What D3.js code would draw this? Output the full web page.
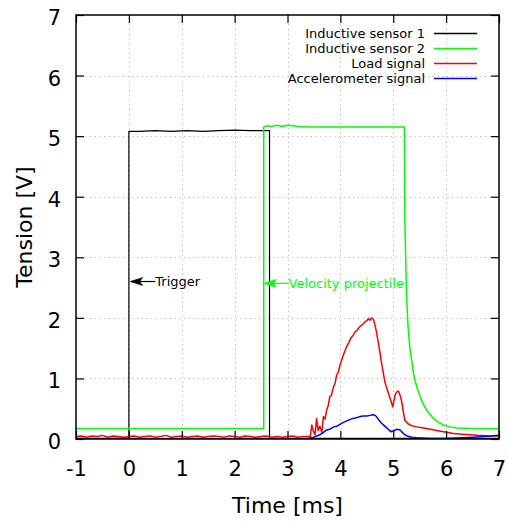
<!DOCTYPE html>
<html>
<head>
<meta charset="utf-8">
<script src="https://cdn.jsdelivr.net/npm/d3@7"></script>
<style>
  html, body { margin: 0; padding: 0; background: #fff; }
  svg { display: block; font-family: "DejaVu Sans", sans-serif; }
</style>
</head>
<body>
<svg id="chart" width="508" height="521"></svg>
<script>
// ---------------- DATA ----------------
const xTicks = [-1, 0, 1, 2, 3, 4, 5, 6, 7];
const yTicks = [0, 1, 2, 3, 4, 5, 6, 7];
const xTitle = "Time [ms]";
const yTitle = "Tension [V]";

const seriesNames = ["Inductive sensor 1", "Inductive sensor 2", "Load signal", "Accelerometer signal"];
const seriesColors = ["#000000", "#00ff00", "#ff0000", "#0000ff"];

// Inductive sensor 1 (time ms, volts)
const sensor1Time = [-1, -0.5, 0.0, 0.0, 0.2, 0.5, 0.8, 1.1, 1.4, 1.7, 2.0, 2.3, 2.5, 2.66, 2.66, 4, 7];
const sensor1Volt = [0.01, 0.01, 0.01, 5.08, 5.08, 5.09, 5.08, 5.09, 5.08, 5.09, 5.10, 5.09, 5.09, 5.09, 0.01, 0.01, 0.01];

// Inductive sensor 2
const sensor2Time = [-1, 1, 2.55, 2.55, 2.6, 2.7, 2.8, 2.9, 3.0, 3.1, 3.2, 3.4, 4.0, 4.6, 5.21, 5.22, 5.25, 5.28, 5.32, 5.35, 5.38, 5.41, 5.46, 5.51, 5.57, 5.63, 5.70, 5.76, 5.85, 5.95, 6.07, 6.2, 6.5, 7];
const sensor2Volt = [0.175, 0.175, 0.175, 5.15, 5.17, 5.16, 5.18, 5.16, 5.18, 5.17, 5.16, 5.15, 5.15, 5.15, 5.15, 3.6, 2.41, 1.85, 1.45, 1.30, 1.10, 0.97, 0.82, 0.70, 0.57, 0.48, 0.40, 0.34, 0.28, 0.23, 0.20, 0.18, 0.175, 0.17];

// Load signal
const loadTime = [-1, -0.9, -0.8, -0.7, -0.6, -0.5, -0.4, -0.3, -0.2, -0.1, 0, 0.1, 0.2, 0.3, 0.4, 0.5, 0.6, 0.7, 0.8, 0.9, 1.0, 1.1, 1.2, 1.3, 1.4, 1.5, 1.6, 1.7, 1.8, 1.9, 2.0, 2.1, 2.2, 2.3, 2.4, 2.5, 2.6, 2.7, 2.8, 2.9, 3.0, 3.1, 3.2, 3.3, 3.4,
  3.43, 3.46, 3.49, 3.52, 3.55, 3.58, 3.61, 3.65, 3.68, 3.71, 3.74, 3.77, 3.80, 3.83, 3.87, 3.90, 3.93, 3.96, 3.99, 4.02, 4.05, 4.08, 4.12, 4.16, 4.20, 4.24, 4.28, 4.32, 4.37, 4.42, 4.47, 4.50, 4.53, 4.56, 4.59, 4.62, 4.64, 4.68, 4.72, 4.75, 4.78, 4.81, 4.84, 4.87, 4.91, 4.94, 4.97, 4.99, 5.01, 5.04, 5.07, 5.10, 5.13, 5.16, 5.19, 5.22, 5.26, 5.30, 5.35, 5.45, 5.57, 5.70, 5.82, 5.95, 6.14, 6.30, 6.45, 6.60, 6.83, 7];
const loadVolt = [0.04, 0.05, 0.03, 0.05, 0.04, 0.06, 0.03, 0.05, 0.04, 0.03, 0.04, 0.05, 0.03, 0.04, 0.05, 0.03, 0.04, 0.06, 0.03, 0.04, 0.05, 0.03, 0.04, 0.05, 0.03, 0.04, 0.05, 0.04, 0.03, 0.05, 0.04, 0.03, 0.05, 0.04, 0.03, 0.04, 0.05, 0.03, 0.04, 0.03, 0.04, 0.05, 0.03, 0.04, 0.04,
  0.04, 0.23, 0.13, 0.07, 0.34, 0.14, 0.21, 0.11, 0.37, 0.33, 0.48, 0.55, 0.70, 0.72, 0.86, 0.92, 1.06, 1.10, 1.21, 1.29, 1.37, 1.44, 1.53, 1.59, 1.67, 1.71, 1.77, 1.80, 1.86, 1.89, 1.94, 1.95, 1.99, 1.96, 2.00, 1.98, 1.93, 1.78, 1.58, 1.42, 1.25, 1.10, 0.95, 0.86, 0.75, 0.67, 0.59, 0.53, 0.62, 0.74, 0.78, 0.79, 0.72, 0.62, 0.45, 0.31, 0.27, 0.24, 0.22, 0.20, 0.18, 0.16, 0.14, 0.12, 0.09, 0.08, 0.07, 0.06, 0.05, 0.05];

// Accelerometer signal
const accelTime = [-1, -0.6, -0.2, 0.2, 0.6, 1.0, 1.4, 1.8, 2.2, 2.6, 3.0, 3.4, 3.43, 3.50, 3.55, 3.61, 3.67, 3.74, 3.80, 3.87, 3.93, 3.99, 4.05, 4.12, 4.18, 4.24, 4.30, 4.37, 4.43, 4.50, 4.56, 4.62, 4.66, 4.69, 4.73, 4.78, 4.83, 4.88, 4.93, 4.97, 5.02, 5.07, 5.13, 5.18, 5.22, 5.26, 5.35, 5.45, 5.70, 6.00, 6.30, 6.50, 6.70, 6.85, 7];
const accelVolt = [0.01, 0.00, 0.01, 0.01, 0.00, 0.01, 0.01, 0.00, 0.01, 0.01, 0.00, 0.01, 0.02, 0.03, 0.05, 0.07, 0.10, 0.15, 0.16, 0.20, 0.21, 0.24, 0.27, 0.30, 0.32, 0.34, 0.35, 0.37, 0.38, 0.38, 0.39, 0.40, 0.39, 0.36, 0.31, 0.26, 0.22, 0.18, 0.14, 0.12, 0.14, 0.16, 0.15, 0.10, 0.07, 0.05, 0.03, 0.02, 0.01, 0.01, 0.02, 0.03, 0.04, 0.05, 0.06];

// Annotations
const annoLabels = ["Trigger", "Velocity projectile"];
const annoColors = ["#000000", "#00ff00"];
const annoFromX = [0.5, 3.02];
const annoToX = [0.03, 2.56];
const annoY = [2.6, 2.57];

// ---------------- CHART ----------------
const W = 508, H = 521;
const margin = { left: 76, top: 15, right: 9, bottom: 82 };
const svg = d3.select("#chart");

const x = d3.scaleLinear().domain([-1, 7]).range([margin.left, W - margin.right]);
const y = d3.scaleLinear().domain([0, 7]).range([H - margin.bottom, margin.top]);

const x0 = x.range()[0], x1 = x.range()[1], y0 = y.range()[0], y1 = y.range()[1];

// grid
const grid = svg.append("g").attr("stroke", "#a8a8a8").attr("stroke-width", 1).attr("stroke-dasharray", "1,3.7");
grid.selectAll("line.gx").data(xTicks.slice(1, -1)).join("line")
  .attr("x1", d => Math.round(x(d)) + 0.5).attr("x2", d => Math.round(x(d)) + 0.5)
  .attr("y1", y1).attr("y2", y0);
grid.selectAll("line.gy").data(yTicks.slice(1, -1)).join("line")
  .attr("y1", d => Math.round(y(d)) + 0.5).attr("y2", d => Math.round(y(d)) + 0.5)
  .attr("x1", x0).attr("x2", x1);

// clip
svg.append("clipPath").attr("id", "clip").append("rect")
  .attr("x", x0).attr("y", y1).attr("width", x1 - x0).attr("height", y0 - y1);

const line = d3.line().x(d => x(d[0])).y(d => y(d[1]));
const seriesData = [
  d3.zip(sensor1Time, sensor1Volt),
  d3.zip(sensor2Time, sensor2Volt),
  d3.zip(loadTime, loadVolt),
  d3.zip(accelTime, accelVolt)
];
const widths = [1.2, 1.5, 1.5, 1.5];
const plot = svg.append("g").attr("clip-path", "url(#clip)");
seriesData.forEach((data, i) => {
  plot.append("path").datum(data)
    .attr("fill", "none")
    .attr("stroke", seriesColors[i])
    .attr("stroke-width", widths[i])
    .attr("stroke-linejoin", "round")
    .attr("d", line);
});

// axes (inward ticks on all four sides)
function styleAxis(g) {
  g.select(".domain").remove();
  g.selectAll(".tick line").attr("stroke", "#000").attr("stroke-width", 1.2);
}
const plainFmt = d => String(d);
svg.append("g").attr("transform", `translate(0,${y0})`)
  .call(d3.axisBottom(x).tickValues(xTicks).tickSize(-8).tickPadding(22).tickFormat(plainFmt))
  .call(styleAxis)
  .call(g => g.selectAll(".tick text").attr("font-size", 21).attr("font-family", "DejaVu Sans").attr("fill", "#000"));
svg.append("g").attr("transform", `translate(0,${y1})`)
  .call(d3.axisTop(x).tickValues(xTicks).tickSize(-8).tickFormat(""))
  .call(styleAxis);
svg.append("g").attr("transform", `translate(${x0},0)`)
  .call(d3.axisLeft(y).tickValues(yTicks).tickSize(-8).tickPadding(15).tickFormat(plainFmt))
  .call(styleAxis)
  .call(g => g.selectAll(".tick text").attr("font-size", 21).attr("font-family", "DejaVu Sans").attr("fill", "#000").attr("dy", "0.45em"));
svg.append("g").attr("transform", `translate(${x1},0)`)
  .call(d3.axisRight(y).tickValues(yTicks).tickSize(-8).tickFormat(""))
  .call(styleAxis);

// border
svg.append("rect").attr("x", x0).attr("y", y1).attr("width", x1 - x0).attr("height", y0 - y1)
  .attr("fill", "none").attr("stroke", "#000").attr("stroke-width", 1.5);

// axis titles
svg.append("text").attr("x", (x0 + x1) / 2).attr("y", 513).attr("text-anchor", "middle")
  .attr("font-size", 22).text(xTitle);
svg.append("text").attr("transform", `translate(32,${(y0 + y1) / 2}) rotate(-90)`).attr("text-anchor", "middle")
  .attr("font-size", 22).text(yTitle);

// legend
const legendRowY = [33.5, 48.5, 63.5, 78.5];
const legend = svg.append("g");
seriesNames.forEach((name, i) => {
  legend.append("text").attr("x", 425).attr("y", legendRowY[i]).attr("dy", "0.35em")
    .attr("text-anchor", "end").attr("font-size", 13).text(name);
  legend.append("line").attr("x1", 434).attr("x2", 477).attr("y1", legendRowY[i]).attr("y2", legendRowY[i])
    .attr("stroke", seriesColors[i]).attr("stroke-width", 1.5);
});

// annotations with arrows
annoLabels.forEach((lab, i) => {
  const xa = x(annoFromX[i]), xb = x(annoToX[i]), ya = y(annoY[i]);
  const col = annoColors[i];
  svg.append("line").attr("x1", xa).attr("x2", xb + 6).attr("y1", ya).attr("y2", ya)
    .attr("stroke", col).attr("stroke-width", 1.2);
  svg.append("path")
    .attr("d", `M${xb},${ya} L${xb + 12},${ya - 3.8} L${xb + 9},${ya} L${xb + 12},${ya + 3.8} Z`)
    .attr("fill", col).attr("stroke", col).attr("stroke-width", 0.8);
  svg.append("text").attr("x", xa).attr("y", ya).attr("dy", "0.35em")
    .attr("font-size", 13).attr("fill", col).text(lab);
});
</script>
</body>
</html>
